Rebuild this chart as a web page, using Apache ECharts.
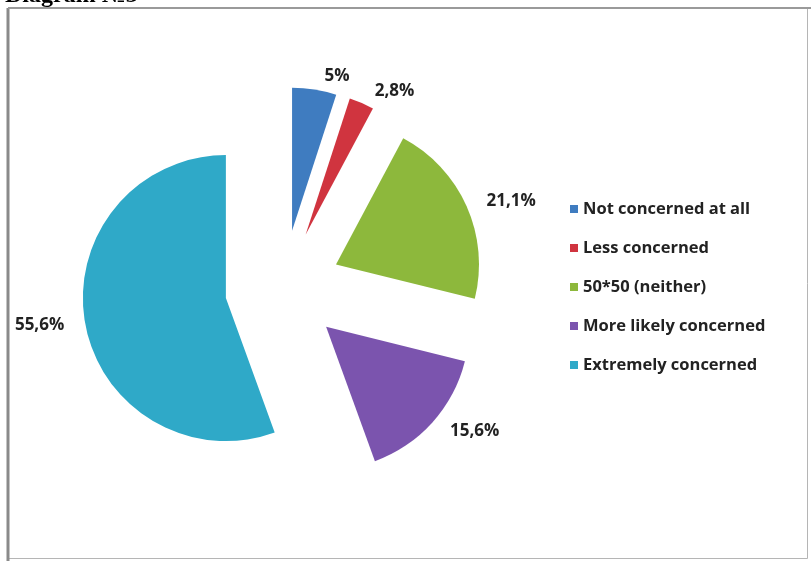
<!DOCTYPE html>
<html>
<head>
<meta charset="utf-8">
<script src="https://cdn.jsdelivr.net/npm/echarts@6/dist/echarts.min.js"></script>
<style>
  html, body { margin: 0; padding: 0; background: #fff; }
  #chart { width: 811px; height: 561px; }
</style>
</head>
<body>
<div id="chart"></div>
<script>
const categories = ['Not concerned at all', 'Less concerned', '50*50 (neither)', 'More likely concerned', 'Extremely concerned']
const values = [5, 2.8, 21.1, 15.6, 55.6]
const colors = ['#3f7cc0', '#d0343f', '#8db83c', '#7b54ae', '#2fa9c8']

const chart = echarts.init(document.getElementById('chart'))

chart.setOption({
  backgroundColor: '#fff',
  animation: false,
  title: {
    text: 'Diagram №3',
    left: 0,
    top: -21.5,
    textStyle: { fontFamily: 'Liberation Serif', fontWeight: 'bold', fontSize: 24, color: '#000' }
  },
  graphic: [
    { type: 'rect', shape: { x: 8.5, y: 8.5, width: 799, height: 550 }, style: { fill: 'none', stroke: '#b5b5b5', lineWidth: 1 } },
    { type: 'line', shape: { x1: 8, y1: 8, x2: 8, y2: 561 }, style: { stroke: '#8a8a8a', lineWidth: 3 } },
    { type: 'line', shape: { x1: 8, y1: 8, x2: 811, y2: 8 }, style: { stroke: '#9a9a9a', lineWidth: 2 } }
  ],
  legend: {
    orient: 'vertical',
    left: 565,
    top: 195,
    itemWidth: 8,
    itemHeight: 8,
    itemGap: 21,
    icon: 'rect',
    data: categories,
    textStyle: { fontFamily: 'Open Sans', fontWeight: 'bold', fontSize: 16.5, lineHeight: 18, color: '#222' }
  },
  series: [
    {
      type: 'pie',
      center: [283, 288],
      radius: 143,
      startAngle: 90,
      clockwise: true,
      selectedMode: 'multiple',
      selectedOffset: 58,
      avoidLabelOverlap: false,
      label: {
        show: true,
        position: 'outside',
        formatter: p => String(p.value).replace('.', ',') + '%',
        fontFamily: 'Open Sans',
        fontWeight: 'bold',
        fontSize: 17,
        color: '#222'
      },
      labelLine: { show: false, length: 13, length2: 3 },
      emphasis: { disabled: true },
      select: { label: { color: '#222' } },
      data: categories.map((name, i) => ({
        name,
        value: values[i],
        selected: true,
        itemStyle: { color: colors[i] },
        select: { itemStyle: { color: colors[i] } }
      }))
    }
  ]
})
</script>
</body>
</html>
